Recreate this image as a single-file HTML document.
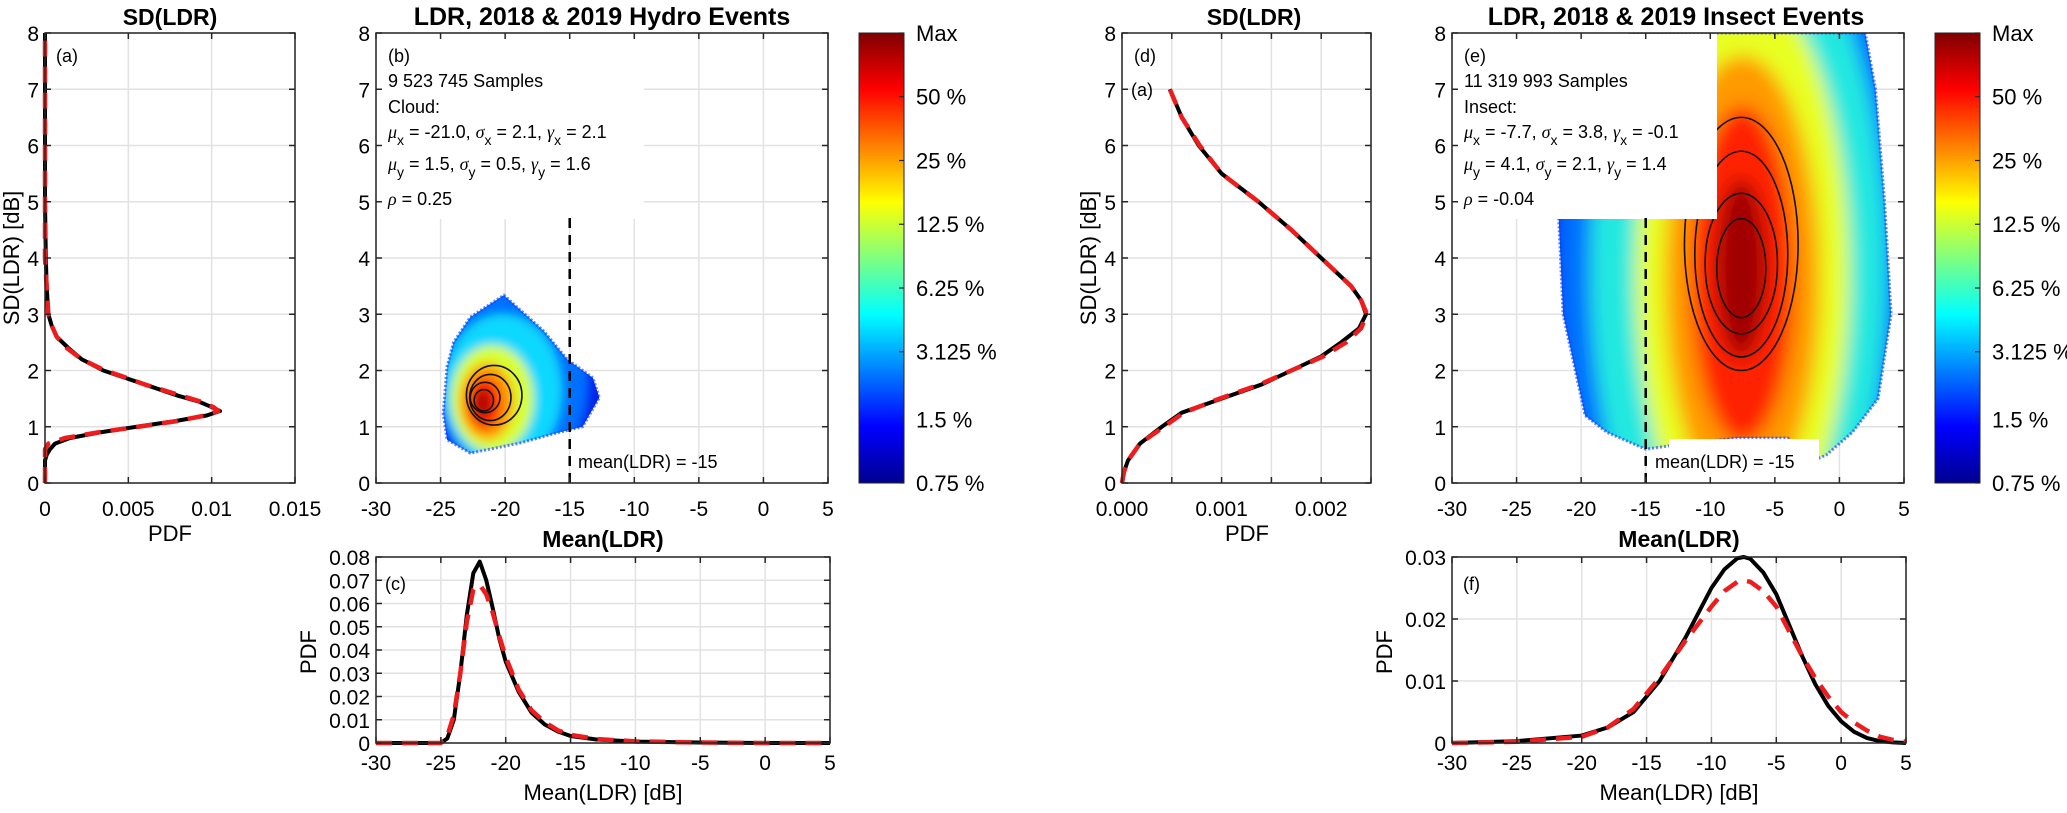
<!DOCTYPE html>
<html><head><meta charset="utf-8"><style>
html,body{margin:0;padding:0;background:#fff;}
svg{display:block;font-family:"Liberation Sans",Arial,sans-serif;}
</style></head><body>
<svg id="fig" width="2067" height="813" viewBox="0 0 2067 813" xmlns="http://www.w3.org/2000/svg">
<defs>
<linearGradient id="jet" x1="0" y1="1" x2="0" y2="0">
<stop offset="0" stop-color="#00008f"/><stop offset="0.125" stop-color="#0000ff"/><stop offset="0.375" stop-color="#00ffff"/><stop offset="0.625" stop-color="#ffff00"/><stop offset="0.875" stop-color="#ff0000"/><stop offset="1" stop-color="#800000"/>
</linearGradient>
<filter id="blurB" x="-50%" y="-50%" width="200%" height="200%"><feGaussianBlur stdDeviation="5"/></filter>
<filter id="blurE" x="-50%" y="-50%" width="200%" height="200%"><feGaussianBlur stdDeviation="9"/></filter>
</defs>
</svg>
<script>
// ---------- data ----------
const cloudSdY   = [0,0.4,0.5,0.6,0.7,0.8,0.9,1.0,1.1,1.2,1.28,1.35,1.45,1.55,1.65,1.75,1.9,2.0,2.2,2.4,2.6,2.8,3.0,3.5,4,5,6,7,8];
const cloudSdPdf = [0,0,0.0001,0.0003,0.0006,0.0015,0.0033,0.0055,0.0078,0.0097,0.0105,0.0100,0.0092,0.0080,0.0070,0.0060,0.0045,0.0035,0.0022,0.0014,0.0007,0.0004,0.0002,0.0001,0.00005,0,0,0,0];
const cloudSdFit = [0,0,0,0,0.0002,0.0012,0.0032,0.0056,0.0079,0.0096,0.0104,0.0101,0.0093,0.0082,0.0071,0.0060,0.0046,0.0036,0.0022,0.0013,0.0007,0.0004,0.0002,0.0001,0,0,0,0,0];
const insSdY     = [0,0.2,0.4,0.7,1.0,1.25,1.5,1.75,2.0,2.25,2.5,2.75,3.0,3.25,3.5,4,4.5,5,5.5,6,6.5,7];
const insSdPdf   = [0,0.00002,0.00006,0.00018,0.0004,0.0006,0.001,0.0014,0.0017,0.002,0.0022,0.00238,0.00245,0.0024,0.0023,0.002,0.0017,0.00137,0.001,0.00077,0.0006,0.00048];
const insSdFit   = [0,0.00002,0.00006,0.00018,0.00042,0.00062,0.00098,0.00138,0.0017,0.00202,0.00225,0.0024,0.00246,0.0024,0.0023,0.002,0.0017,0.00137,0.001,0.00078,0.0006,0.00048];
const cloudMx    = [-30,-25,-24.5,-24,-23.5,-23,-22.5,-22,-21.5,-21,-20.5,-20,-19,-18,-17,-16,-15,-13,-10,-5,0,5];
const cloudMPdf  = [0,0,0.002,0.01,0.03,0.055,0.073,0.078,0.07,0.058,0.045,0.035,0.022,0.013,0.008,0.005,0.003,0.0015,0.0006,0.0002,0,0];
const cloudMFit  = [0,0,0.003,0.012,0.03,0.052,0.066,0.068,0.064,0.056,0.046,0.037,0.023,0.014,0.009,0.0055,0.0035,0.0017,0.0007,0.0002,0,0];
const insMx      = [-30,-25,-20,-18,-16,-14,-12,-10,-9,-8,-7.5,-7,-6,-5,-4,-3,-2,-1,0,1,2,3,4,5];
const insMPdf    = [0,0.0003,0.0012,0.0025,0.005,0.01,0.017,0.025,0.028,0.0298,0.030,0.0297,0.0275,0.024,0.019,0.014,0.0095,0.006,0.0035,0.0018,0.0008,0.0003,0.0001,0];
const insMFit    = [0,0.0002,0.001,0.0025,0.0055,0.0105,0.0165,0.022,0.0245,0.026,0.0262,0.026,0.0245,0.022,0.018,0.014,0.0105,0.0075,0.005,0.0033,0.002,0.001,0.0005,0.0002];
// heatmap (b) outline + density layers (data units)
const cloudOutX = [-20.1,-17.0,-15.2,-13.2,-12.7,-14.0,-16.0,-18.85,-22.7,-24.5,-24.8,-24.5,-24.0,-22.7];
const cloudOutY = [3.34,2.7,2.2,1.87,1.52,1.0,0.89,0.71,0.53,0.77,1.24,2.07,2.5,2.95];
const cloudLayCx = [-19.5,-20.2,-21.0,-21.4,-21.6,-21.75];
const cloudLayCy = [1.8,1.65,1.5,1.45,1.42,1.42];
const cloudLayRx = [6.0,4.6,3.2,2.1,1.3,0.6];
const cloudLayRy = [1.8,1.35,0.95,0.68,0.46,0.25];
const cloudLayC  = ['#0070ff','#10d8ff','#d8ff30','#ff9a00','#ff2800','#a80000'];
const cloudConCx = [-20.85,-21.15,-21.55,-21.65];
const cloudConCy = [1.56,1.52,1.52,1.47];
const cloudConRx = [2.15,1.6,1.15,0.75];
const cloudConRy = [0.53,0.41,0.27,0.19];
// heatmap (e)
const insOutX = [-16,-9,0,2,2.8,3.5,4,3,1,-1,-2,-4,-8,-12,-15,-18,-19.7,-21.4,-21.8,-20];
const insOutY = [8,8,8,8,7,5,3,1.5,0.9,0.5,0.4,0.8,0.8,0.7,0.6,0.9,1.2,3,5,7.5];
const insLayCx = [-8.5,-7.8,-7.5,-7.5,-7.5,-7.6];
const insLayCy = [4.0,3.8,3.7,3.6,3.7,3.8];
const insLayRx = [13.5,11.5,8.3,6.0,4.0,2.0];
const insLayRy = [8.0,6.5,5.2,4.0,3.0,1.6];
const insLayC  = ['#0070ff','#20e8e0','#e8ff20','#ff9a00','#ff2000','#a00000'];
const insConCx = [-7.6,-7.6,-7.6,-7.6];
const insConCy = [4.25,4.07,3.9,3.82];
const insConRx = [4.4,3.6,2.8,1.9];
const insConRy = [2.25,1.83,1.25,0.88];
// tick labels
const sdTicks = [0,1,2,3,4,5,6,7,8];
const ldrTicks = [-30,-25,-20,-15,-10,-5,0,5];
const pdfATicks = [0,0.005,0.01,0.015];
const pdfATickLbl = ['0','0.005','0.01','0.015'];
const pdfDGrid = [0,0.0005,0.001,0.0015,0.002,0.0025];
const pdfDTicks = [0,0.001,0.002];
const pdfDTickLbl = ['0.000','0.001','0.002'];
const pdfCTicks = [0,0.01,0.02,0.03,0.04,0.05,0.06,0.07,0.08];
const pdfCTickLbl = ['0','0.01','0.02','0.03','0.04','0.05','0.06','0.07','0.08'];
const pdfFTicks = [0,0.01,0.02,0.03];
const pdfFTickLbl = ['0','0.01','0.02','0.03'];
const cbVals = [0.75,1.5,3.125,6.25,12.5,25,50,100];
const cbLbl = ['0.75 %','1.5 %','3.125 %','6.25 %','12.5 %','25 %','50 %','Max'];

// ---------- helpers ----------
const NS='http://www.w3.org/2000/svg';
const svg=document.getElementById('fig');
function el(tag,attrs,parent){const e=document.createElementNS(NS,tag);for(const k in attrs)e.setAttribute(k,attrs[k]);(parent||svg).appendChild(e);return e;}
function panel(x0,x1,y0,y1,xmin,xmax,ymin,ymax){return {x0,x1,y0,y1,sx:v=>x0+(v-xmin)/(xmax-xmin)*(x1-x0),sy:v=>y1-(v-ymin)/(ymax-ymin)*(y1-y0)};}
function txt(x,y,html,opts,name){const t=el('text',Object.assign({x:x,y:y,'font-size':21,fill:'#000'},opts||{}));t.innerHTML=html;


return t;}
function grid(p,xs,ys,g){
 xs.forEach(v=>{const l=el('line',{x1:p.sx(v),x2:p.sx(v),y1:p.y0,y2:p.y1,stroke:'#e2e2e2','stroke-width':1.5},g);
 
 });
 ys.forEach(v=>{const l=el('line',{y1:p.sy(v),y2:p.sy(v),x1:p.x0,x2:p.x1,stroke:'#e2e2e2','stroke-width':1.5},g);
 
 });
}
function frame(p,xs,ys,g){
 const r=el('rect',{x:p.x0,y:p.y0,width:p.x1-p.x0,height:p.y1-p.y0,fill:'none',stroke:'#262626','stroke-width':1.5},g);
 
 
 xs.forEach(v=>{[[p.y1,p.y1-6],[p.y0,p.y0+6]].forEach(a=>{const l=el('line',{x1:p.sx(v),x2:p.sx(v),y1:a[0],y2:a[1],stroke:'#262626','stroke-width':1.5},g);
 
 });});
 ys.forEach(v=>{[[p.x0,p.x0+6],[p.x1,p.x1-6]].forEach(a=>{const l=el('line',{y1:p.sy(v),y2:p.sy(v),x1:a[0],x2:a[1],stroke:'#262626','stroke-width':1.5},g);
 
 });});
}
function xLabels(p,vals,lbls,y,g){vals.forEach((v,i)=>txt(p.sx(v),y,lbls[i],{'text-anchor':'middle'},'x-tick-label'));}
function yLabels(p,vals,lbls,g){vals.forEach((v,i)=>txt(p.x0-6,p.sy(v)+8,lbls[i],{'text-anchor':'end'},'y-tick-label'));}
function curve(p,xs,ys,horiz,attrs,name,g){
 const pts=xs.map((v,i)=>horiz?[p.sx(ys[i]),p.sy(v)]:[p.sx(v),p.sy(ys[i])]);
 const c=el('polyline',Object.assign({points:pts.map(q=>q.join(',')).join(' '),fill:'none','stroke-linejoin':'round'},attrs),g);
 
 
}
function clipRect(id,p){const cp=el('clipPath',{id:id},svg.querySelector('defs'));el('rect',{x:p.x0,y:p.y0,width:p.x1-p.x0,height:p.y1-p.y0},cp);}
function colorbar(x0,x1,y0,y1,name){
 const g=el('g',{});
 
 
 const r=el('rect',{x:x0,y:y0,width:x1-x0,height:y1-y0,fill:'url(#jet)',stroke:'#262626','stroke-width':1},g);
 
 
 const lmin=Math.log2(cbVals[0]),lmax=Math.log2(cbVals[cbVals.length-1]);
 cbVals.forEach((v,i)=>{const y=y1-(Math.log2(v)-lmin)/(lmax-lmin)*(y1-y0);
  const l=el('line',{x1:x1-5,x2:x1,y1:y,y2:y,stroke:'#262626','stroke-width':1.2},g);
  
  
  txt(x1+12,y+8,cbLbl[i],{'font-size':22},'colorbar-label');});
}
const blackLine={stroke:'#000','stroke-width':4};
const redLine={stroke:'#ee1c1c','stroke-width':4.5,'stroke-dasharray':'16 10'};

// ---------- panel A ----------
const A=panel(45,295,33,483,0,0.015,0,8);
clipRect('clipA',A);
grid(A,pdfATicks,sdTicks);
curve(A,cloudSdY,cloudSdPdf,true,blackLine,'sd-pdf-cloud-line');
curve(A,cloudSdY,cloudSdFit,true,redLine,'sd-fit-cloud-line');
frame(A,pdfATicks,sdTicks);
xLabels(A,pdfATicks,pdfATickLbl,516);
yLabels(A,sdTicks,sdTicks.map(String));
txt(170,25,'SD(LDR)',{'text-anchor':'middle','font-size':23,'font-weight':'bold'},'panel-a-title');
txt(170,541,'PDF',{'text-anchor':'middle','font-size':22},'panel-a-x-title');
txt(0,0,'SD(LDR)  [dB]',{'text-anchor':'middle','font-size':22,transform:'translate(19,258) rotate(-90)','xml:space':'preserve'},'panel-a-y-title');
txt(56,62,'(a)',{'font-size':18},'panel-a-label');

// ---------- heatmap helper ----------
function heat(p,clipId,ox,oy,lcx,lcy,lrx,lry,lc,filt,name){
 const g=el('g',{'clip-path':'url(#'+clipId+')'});
 
 
 const cp=el('clipPath',{id:clipId+'o'},svg.querySelector('defs'));
 el('polygon',{points:ox.map((v,i)=>p.sx(v)+','+p.sy(oy[i])).join(' ')},cp);
 const inner=el('g',{'clip-path':'url(#'+clipId+'o)'},g);
 const base=el('polygon',{points:ox.map((v,i)=>p.sx(v)+','+p.sy(oy[i])).join(' '),fill:'#0020e8'},inner);
 
 
 const bg=el('g',{filter:'url(#'+filt+')'},inner);
 lcx.forEach((c,i)=>{const e=el('ellipse',{cx:p.sx(c),cy:p.sy(lcy[i]),rx:Math.abs(p.sx(c+lrx[i])-p.sx(c)),ry:Math.abs(p.sy(lcy[i]+lry[i])-p.sy(lcy[i])),fill:lc[i]},bg);
 
 });
 const edge=el('polygon',{points:ox.map((v,i)=>p.sx(v)+','+p.sy(oy[i])).join(' '),fill:'none',stroke:'#1030ff','stroke-width':3,'stroke-dasharray':'2 2',opacity:0.6},g);
 
 
}
function contours(p,cx,cy,rx,ry,name){
 cx.forEach((c,i)=>{const e=el('ellipse',{cx:p.sx(c),cy:p.sy(cy[i]),rx:Math.abs(p.sx(c+rx[i])-p.sx(c)),ry:Math.abs(p.sy(cy[i]+ry[i])-p.sy(cy[i])),fill:'none',stroke:'#111','stroke-width':1.6});
 
 });
}
function infoBox(p,x,lines,tag,name){
 const r=el('rect',{x:p.x0+1,y:p.y0+1,width:x-p.x0,height:185,fill:'#fff'});
 
 
 const bx=p.x0+12;
 txt(bx,62,tag,{'font-size':18},'panel-tag');
 const ys=[87,113,138,170,205];
 lines.forEach((l,i)=>txt(bx,ys[i],l,{'font-size':18},'stats-line'));
}
const sub=s=>'<tspan dy="7" font-size="14">'+s+'</tspan><tspan dy="-7">';
const it=s=>'<tspan font-style="italic" font-family="Liberation Serif">'+s+'</tspan>';

// ---------- panel B ----------
const B=panel(376,828,33,483,-30,5,0,8);
clipRect('clipB',B);
grid(B,ldrTicks,sdTicks);
heat(B,'clipB',cloudOutX,cloudOutY,cloudLayCx,cloudLayCy,cloudLayRx,cloudLayRy,cloudLayC,'blurB','cloud-density-heatmap');
contours(B,cloudConCx,cloudConCy,cloudConRx,cloudConRy,'cloud-contour');
infoBox(B,643,['9 523 745 Samples','Cloud:',it('μ')+sub('x')+' = -21.0, '+it('σ')+sub('x')+' = 2.1, </tspan>'+it('γ')+sub('x')+' = 2.1</tspan>',
 it('μ')+sub('y')+' = 1.5, '+it('σ')+sub('y')+' = 0.5, </tspan>'+it('γ')+sub('y')+' = 1.6</tspan>', it('ρ')+' = 0.25'],'(b)','cloud-stats-box');
(function(){const l=el('line',{x1:B.sx(-15),x2:B.sx(-15),y1:218,y2:B.y1,stroke:'#000','stroke-width':2.5,'stroke-dasharray':'10 7'});

})();
txt(578,468,'mean(LDR) = -15',{'font-size':18},'threshold-label');
frame(B,ldrTicks,sdTicks);
xLabels(B,ldrTicks,ldrTicks.map(String),516);
yLabels(B,sdTicks,sdTicks.map(String));
txt(602,25,'LDR, 2018 &amp; 2019 Hydro Events',{'text-anchor':'middle','font-size':25,'font-weight':'bold'},'panel-b-title');
colorbar(859,904,33,483,'colorbar-hydro');

// ---------- panel C ----------
const C=panel(376,830,557,743,-30,5,0,0.08);
grid(C,ldrTicks,pdfCTicks);
curve(C,cloudMx,cloudMPdf,false,blackLine,'mean-pdf-cloud-line');
curve(C,cloudMx,cloudMFit,false,redLine,'mean-fit-cloud-line');
frame(C,ldrTicks,pdfCTicks);
xLabels(C,ldrTicks,ldrTicks.map(String),770);
yLabels(C,pdfCTicks,pdfCTickLbl);
txt(603,547,'Mean(LDR)',{'text-anchor':'middle','font-size':23,'font-weight':'bold'},'panel-c-title');
txt(603,800,'Mean(LDR) [dB]',{'text-anchor':'middle','font-size':22},'panel-c-x-title');
txt(0,0,'PDF',{'text-anchor':'middle','font-size':22,transform:'translate(316,652) rotate(-90)'},'panel-c-y-title');
txt(385,590,'(c)',{'font-size':18},'panel-c-label');

// ---------- panel D ----------
const D=panel(1122,1371,33,483,0,0.0025,0,8);
grid(D,pdfDGrid,[0,1,2,3,4,5,6,7]);
curve(D,insSdY,insSdPdf,true,blackLine,'sd-pdf-insect-line');
curve(D,insSdY,insSdFit,true,redLine,'sd-fit-insect-line');
frame(D,pdfDGrid,sdTicks);
xLabels(D,pdfDTicks,pdfDTickLbl,516);
yLabels(D,sdTicks,sdTicks.map(String));
txt(1254,25,'SD(LDR)',{'text-anchor':'middle','font-size':23,'font-weight':'bold'},'panel-d-title');
txt(1247,541,'PDF',{'text-anchor':'middle','font-size':22},'panel-d-x-title');
txt(0,0,'SD(LDR)  [dB]',{'text-anchor':'middle','font-size':22,transform:'translate(1096,258) rotate(-90)','xml:space':'preserve'},'panel-d-y-title');
txt(1134,62,'(d)',{'font-size':18},'panel-d-label');
txt(1131,96,'(a)',{'font-size':18},'panel-d-inner-label');

// ---------- panel E ----------
const E=panel(1452,1904,33,483,-30,5,0,8);
clipRect('clipE',E);
grid(E,ldrTicks,sdTicks);
heat(E,'clipE',insOutX,insOutY,insLayCx,insLayCy,insLayRx,insLayRy,insLayC,'blurE','insect-density-heatmap');
contours(E,insConCx,insConCy,insConRx,insConRy,'insect-contour');
infoBox(E,1716,['11 319 993 Samples','Insect:',it('μ')+sub('x')+' = -7.7, '+it('σ')+sub('x')+' = 3.8, </tspan>'+it('γ')+sub('x')+' = -0.1</tspan>',
 it('μ')+sub('y')+' = 4.1, '+it('σ')+sub('y')+' = 2.1, </tspan>'+it('γ')+sub('y')+' = 1.4</tspan>', it('ρ')+' = -0.04'],'(e)','insect-stats-box');
(function(){const r=el('rect',{x:1669,y:E.sy(0.78),width:150,height:E.y1-E.sy(0.78)-1,fill:'#fff'});


const l=el('line',{x1:E.sx(-15),x2:E.sx(-15),y1:218,y2:E.y1,stroke:'#000','stroke-width':2.5,'stroke-dasharray':'10 7'});

})();
txt(1655,468,'mean(LDR) = -15',{'font-size':18},'threshold-label');
frame(E,ldrTicks,sdTicks);
xLabels(E,ldrTicks,ldrTicks.map(String),516);
yLabels(E,sdTicks,sdTicks.map(String));
txt(1676,25,'LDR, 2018 &amp; 2019 Insect Events',{'text-anchor':'middle','font-size':25,'font-weight':'bold'},'panel-e-title');
colorbar(1935,1980,33,483,'colorbar-insect');

// ---------- panel F ----------
const F=panel(1452,1906,557,743,-30,5,0,0.03);
grid(F,ldrTicks,pdfFTicks);
curve(F,insMx,insMPdf,false,blackLine,'mean-pdf-insect-line');
curve(F,insMx,insMFit,false,redLine,'mean-fit-insect-line');
frame(F,ldrTicks,pdfFTicks);
xLabels(F,ldrTicks,ldrTicks.map(String),770);
yLabels(F,pdfFTicks,pdfFTickLbl);
txt(1679,547,'Mean(LDR)',{'text-anchor':'middle','font-size':23,'font-weight':'bold'},'panel-f-title');
txt(1679,800,'Mean(LDR) [dB]',{'text-anchor':'middle','font-size':22},'panel-f-x-title');
txt(0,0,'PDF',{'text-anchor':'middle','font-size':22,transform:'translate(1392,652) rotate(-90)'},'panel-f-y-title');
txt(1463,590,'(f)',{'font-size':18},'panel-f-label');
</script>
</body></html>
